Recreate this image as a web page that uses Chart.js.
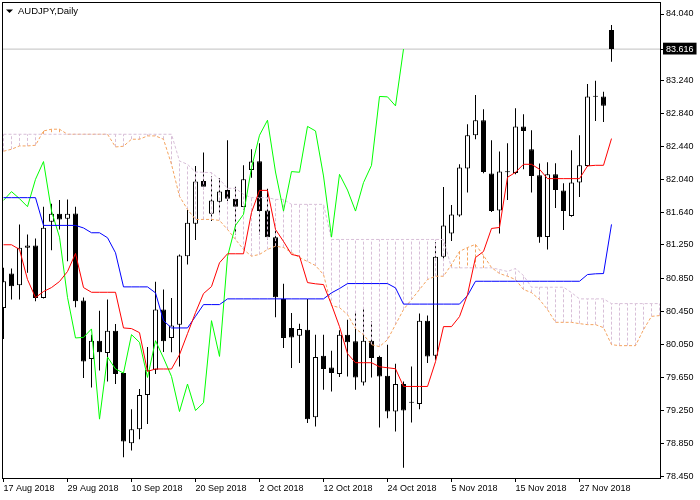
<!DOCTYPE html>
<html>
<head>
<meta charset="utf-8">
<script src="https://cdn.jsdelivr.net/npm/chart.js@4.4.1/dist/chart.umd.min.js"></script>
<style>
html,body{margin:0;padding:0;background:#ffffff;}
#wrap{width:700px;height:500px;}
</style>
</head>
<body>
<div id="wrap"><canvas id="c" width="700" height="500"></canvas></div>
<script>
// ---- Data (AUDJPY, Daily) ----
const titleText = "AUDJPY,Daily";
const tickLabels = ["17 Aug 2018","29 Aug 2018","10 Sep 2018","20 Sep 2018","2 Oct 2018","12 Oct 2018","24 Oct 2018","5 Nov 2018","15 Nov 2018","27 Nov 2018"];
const tickBars = [0,8,16,24,32,40,48,56,64,72];
const priceTicks = [84.040,83.240,82.840,82.440,82.040,81.640,81.250,80.850,80.450,80.050,79.650,79.250,78.850,78.450];
const lastPrice = 83.616;

const opens = [80.489,80.904,80.763,81.216,81.243,80.610,81.530,81.627,81.567,81.631,
80.578,79.872,80.093,79.944,80.214,79.702,78.855,79.024,79.436,79.742,
80.469,80.126,80.287,81.114,81.506,82.022,81.627,81.773,81.913,81.809,
81.707,82.155,82.261,81.667,81.344,80.598,80.247,80.154,80.226,79.169,
79.912,79.770,79.690,80.166,80.085,79.588,80.093,79.896,79.669,79.237,
79.569,79.352,79.327,80.335,79.912,81.107,81.389,81.607,82.172,82.575,
82.757,82.112,81.667,82.134,82.118,82.682,82.406,82.091,81.346,82.103,
81.909,81.598,82.003,82.204,83.051,83.044,83.847];
const highs = [80.973,80.965,81.498,81.377,81.328,81.712,81.748,81.792,81.800,81.712,
80.614,80.166,80.456,80.590,80.295,79.709,79.266,79.508,80.017,80.804,
80.711,80.610,81.135,81.671,82.204,82.366,82.083,82.055,82.515,81.954,
82.212,82.406,82.478,81.930,81.417,80.780,80.429,80.299,80.598,80.166,
80.166,79.972,80.218,80.347,80.436,80.489,80.327,79.912,80.045,79.815,
79.600,79.782,80.420,80.396,81.283,81.949,81.731,82.224,82.709,83.060,
82.890,82.515,82.378,82.478,82.900,82.830,82.636,82.234,82.248,82.236,
81.994,82.394,82.575,83.193,83.233,83.100,83.907];
const lows = [80.114,80.590,80.590,80.913,80.569,80.602,81.187,81.437,81.053,80.496,
79.642,79.528,79.734,79.600,79.569,78.685,78.765,78.903,79.085,79.690,
79.956,79.952,79.782,81.013,81.308,81.922,81.538,81.639,81.780,81.377,
81.679,82.063,81.377,81.316,80.375,80.005,79.763,79.823,79.097,79.056,
79.500,79.479,79.654,79.661,79.500,79.552,79.649,79.043,79.157,78.995,
78.559,79.104,79.266,79.823,79.863,81.074,81.296,81.591,81.882,82.527,
82.115,81.647,81.389,81.794,82.103,82.164,81.882,81.276,81.195,81.695,
81.429,81.591,81.828,82.196,82.748,82.736,83.463];
const closes = [80.811,80.751,81.216,81.243,80.610,81.458,81.627,81.558,81.627,80.569,
79.843,80.093,79.952,80.214,79.690,78.874,79.024,79.436,79.742,80.469,
80.085,80.278,81.122,81.518,82.015,81.954,81.788,81.894,81.809,81.712,
82.043,82.257,81.659,81.344,80.617,80.126,80.133,80.235,79.145,79.896,
79.751,79.702,80.166,80.073,79.649,80.093,79.884,79.661,79.237,79.569,
79.249,79.344,80.335,79.903,81.107,81.486,81.619,82.184,82.575,82.757,
82.131,81.659,82.136,82.128,82.682,82.627,82.083,81.344,82.103,81.913,
81.659,82.003,82.212,83.044,83.039,82.930,83.616];

// Ichimoku lines
const tenkan = [81.252,81.252,81.195,80.832,80.614,80.687,80.735,80.808,80.929,81.147,
80.735,80.678,80.678,80.678,80.678,80.247,80.239,80.190,79.722,79.751,
79.751,79.751,79.924,80.178,80.432,80.662,80.747,81.034,81.143,81.143,
81.143,81.643,81.909,81.909,81.437,81.292,81.135,81.114,80.795,80.780,
80.771,80.529,80.263,79.936,79.827,79.827,79.827,79.778,79.766,79.754,
79.540,79.540,79.540,79.540,79.839,80.263,80.263,80.384,80.650,81.098,
81.171,81.449,81.461,82.067,82.127,82.224,82.224,82.164,82.051,82.051,
82.051,82.051,82.051,82.204,82.212,82.212,82.535];
const kijun = [81.821,81.821,81.821,81.821,81.821,81.486,81.486,81.486,81.486,81.486,
81.455,81.397,81.397,81.337,81.155,80.743,80.743,80.743,80.743,80.671,
80.335,80.247,80.247,80.247,80.387,80.529,80.529,80.529,80.598,80.598,
80.598,80.598,80.598,80.598,80.598,80.598,80.598,80.598,80.598,80.598,
80.598,80.671,80.723,80.783,80.783,80.783,80.783,80.783,80.783,80.731,
80.535,80.535,80.535,80.535,80.535,80.535,80.535,80.535,80.638,80.811,
80.811,80.811,80.811,80.811,80.811,80.811,80.811,80.811,80.811,80.811,
80.811,80.811,80.811,80.892,80.901,80.904,81.498];
const chikou = [81.788,81.894,81.809,81.712,82.043,82.257,81.659,81.344,80.617,80.126,
80.133,80.235,79.145,79.896,79.751,79.702,80.166,80.073,79.649,80.093,
79.884,79.661,79.237,79.569,79.249,79.344,80.335,79.903,81.107,81.486,
81.619,82.184,82.575,82.757,82.131,81.659,82.136,82.128,82.682,82.627,
82.083,81.344,82.103,81.913,81.659,82.003,82.212,83.044,83.039,82.930,
83.616];
const spanA = [82.382,82.406,82.446,82.446,82.454,82.627,82.648,82.648,82.587,82.587,
82.587,82.587,82.587,82.587,82.434,82.442,82.527,82.527,82.567,82.567,
82.527,82.224,81.837,81.679,81.558,81.558,81.558,81.546,81.437,81.316,
81.195,81.114,81.135,81.195,81.235,81.219,81.159,81.095,81.050,81.001,
80.892,80.517,80.493,80.408,80.239,80.166,80.045,80.021,80.105,80.287,
80.469,80.590,80.711,80.832,80.872,80.872,81.013,81.171,81.219,81.256,
81.122,80.977,80.904,80.872,80.832,80.711,80.674,80.590,80.469,80.315,
80.315,80.315,80.299,80.287,80.287,80.251,80.045,80.033,80.033,80.033,
80.226,80.387,80.396];
const spanB = [82.587,82.587,82.587,82.587,82.587,82.587,82.587,82.587,82.587,82.587,
82.587,82.587,82.587,82.587,82.587,82.587,82.587,82.587,82.587,82.587,
82.587,82.587,82.264,82.224,82.131,82.127,82.124,82.043,81.934,81.934,
81.861,81.821,81.821,81.821,81.800,81.800,81.740,81.740,81.740,81.740,
81.740,81.316,81.316,81.316,81.316,81.316,81.316,81.316,81.316,81.316,
81.316,81.316,81.316,81.316,81.316,81.316,80.973,80.973,80.973,80.973,
80.973,80.973,80.953,80.929,80.965,80.880,80.739,80.739,80.739,80.739,
80.739,80.674,80.598,80.598,80.598,80.598,80.541,80.541,80.541,80.541,
80.541,80.541,80.541];

// ---- Build library datasets from the arrays ----
const toXY = arr => arr.map((v, i) => ({x: i, y: v}));
const bodyData = opens.map((o, i) => ({x: i, y: [o, closes[i]]}));
const wickData = lows.map((l, i) => ({x: i, y: [l, highs[i]]}));
const bodyColors = opens.map((o, i) => closes[i] >= o ? '#ffffff' : '#000000');
const hatchThistle = [], hatchSandy = [];
spanA.forEach((a, i) => {
  const b = spanB[i];
  if (a === b) return;
  const t = b > a ? hatchThistle : hatchSandy;
  t.push({x: i, y: a}, {x: i, y: b}, {x: i, y: null});
});

const FONT = '"Liberation Sans", Arial, sans-serif';
Chart.defaults.font.family = FONT;
Chart.defaults.font.size = 9;
Chart.defaults.color = '#000000';

const decor = {
  id: 'decor',
  afterDraw(chart) {
    const c = chart.ctx, a = chart.chartArea;
    c.save();
    c.strokeStyle = '#000000';
    c.lineWidth = 1;
    c.strokeRect(a.left + 0.5, a.top + 0.5, a.right - a.left, a.bottom - a.top);
    c.fillStyle = '#000000';
    c.beginPath();
    c.moveTo(6, 9.5); c.lineTo(13, 9.5); c.lineTo(9.5, 13); c.closePath(); c.fill();
    c.font = '9.5px ' + FONT;
    c.textBaseline = 'middle';
    c.textAlign = 'left';
    c.fillText(titleText, 18, 11.5);
    c.restore();
  }
};

const lineBase = {type: 'line', pointRadius: 0, pointHoverRadius: 0, borderWidth: 1, tension: 0, fill: false, spanGaps: false};

new Chart(document.getElementById('c'), {
  type: 'bar',
  data: {
    datasets: [
      Object.assign({}, lineBase, {label: 'Tenkan-sen', data: toXY(tenkan), borderColor: '#ff0000', order: 1}),
      Object.assign({}, lineBase, {label: 'Kijun-sen', data: toXY(kijun), borderColor: '#0000ff', order: 2}),
      Object.assign({}, lineBase, {label: 'Chikou Span', data: toXY(chikou), borderColor: '#00ff00', order: 3}),
      Object.assign({}, lineBase, {label: 'Senkou Span B', data: toXY(spanB), borderColor: '#d8bfd8', borderDash: [3, 2], order: 4}),
      Object.assign({}, lineBase, {label: 'Senkou Span A', data: toXY(spanA), borderColor: '#f4a460', borderDash: [3, 2], order: 5}),
      Object.assign({}, lineBase, {label: 'Cloud B', data: hatchThistle, borderColor: '#d8bfd8', borderDash: [3, 2], order: 6}),
      Object.assign({}, lineBase, {label: 'Cloud A', data: hatchSandy, borderColor: '#f4a460', borderDash: [3, 2], order: 7}),
      {type: 'bar', label: 'Body', data: bodyData, backgroundColor: bodyColors, borderColor: '#000000', borderWidth: 1,
        borderSkipped: false, barThickness: 5, grouped: false, minBarLength: 1, inflateAmount: 0, order: 8},
      {type: 'bar', label: 'Wick', data: wickData, backgroundColor: '#000000', borderWidth: 0,
        barThickness: 1, grouped: false, inflateAmount: 0, order: 9},
      Object.assign({}, lineBase, {label: 'Price', data: [{x: -1, y: lastPrice}, {x: 83, y: lastPrice}], borderColor: '#c0c0c0', order: 10})
    ]
  },
  options: {
    responsive: false,
    devicePixelRatio: 1,
    animation: false,
    events: [],
    layout: {padding: {left: 2, top: 2, right: 0, bottom: 0}},
    plugins: {legend: {display: false}, tooltip: {enabled: false}, title: {display: false}},
    scales: {
      x: {
        type: 'linear', min: -0.1875, max: 82.0625, offset: false,
        afterBuildTicks: s => { s.ticks = tickBars.map(v => ({value: v})); },
        afterFit: s => { s.height = 22; s.paddingLeft = 0; s.paddingRight = 0; },
        grid: {display: true, drawOnChartArea: false, drawTicks: true, tickLength: 4, color: '#000000', offset: false},
        border: {display: false},
        ticks: {autoSkip: false, maxRotation: 0, minRotation: 0, align: 'start', padding: 1,
          font: {size: 9, family: FONT}, color: '#000000',
          callback: v => tickLabels[tickBars.indexOf(v)]}
      },
      y: {
        type: 'linear', position: 'right', min: 78.434, max: 84.185,
        afterBuildTicks: s => { s.ticks = priceTicks.concat([lastPrice]).map(v => ({value: v})); },
        afterFit: s => { s.width = 40; s.paddingTop = 0; s.paddingBottom = 0; },
        grid: {display: true, drawOnChartArea: false, drawTicks: true, tickLength: 4, color: '#000000'},
        border: {display: false},
        ticks: {autoSkip: false, padding: 2, font: {size: 9, family: FONT},
          color: c => (c.tick && c.tick.value === lastPrice) ? '#ffffff' : '#000000',
          showLabelBackdrop: c => !!(c.tick && c.tick.value === lastPrice),
          backdropColor: '#000000',
          backdropPadding: {top: 1, bottom: 0, left: 3, right: 3},
          callback: v => v.toFixed(3)}
      }
    }
  },
  plugins: [decor]
});
</script>
</body>
</html>
